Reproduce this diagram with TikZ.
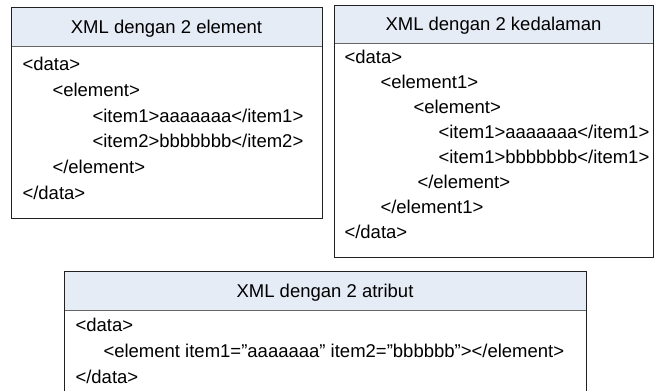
\documentclass[tikz,border=0pt]{standalone}
\usepackage{fontspec}
\setmainfont{Liberation Sans}
\definecolor{titlefill}{HTML}{E6ECF6}
\definecolor{framecol}{HTML}{202020}
\begin{document}
\begin{tikzpicture}[x=1pt,y=-1pt,line width=1pt,
  codeline/.style={anchor=base west,inner sep=0pt,font=\fontsize{18.5}{18.5}\selectfont},
  titletext/.style={anchor=base,inner sep=0pt,font=\fontsize{18.5}{18.5}\selectfont},
  band/.style={fill=titlefill,draw=black!60},
  frame/.style={draw=framecol}]
\useasboundingbox (0,0) rectangle (655,391);
% box 1
\filldraw[band] (11,7) rectangle (322,46);
\draw[frame] (11,7) rectangle (322,218);
\node[titletext] (t1) at (166.5,33) {XML dengan 2 element};
\node[codeline] (a1) at (22,70.5) {<data>};
\node[codeline] (a2) at (52,96.3) {<element>};
\node[codeline] (a3) at (92,122.1) {<item1>aaaaaaa</item1>};
\node[codeline] (a4) at (92,147.9) {<item2>bbbbbbb</item2>};
\node[codeline] (a5) at (52,173.7) {</element>};
\node[codeline] (a6) at (22,199.5) {</data>};
% box 2
\filldraw[band] (334,5) rectangle (653,43);
\draw[frame] (334,5) rectangle (653,257);
\node[titletext] (t2) at (493.5,30.5) {XML dengan 2 kedalaman};
\node[codeline] (b1) at (344,63.5) {<data>};
\node[codeline] (b2) at (380,88.5) {<element1>};
\node[codeline] (b3) at (413,113.5) {<element>};
\node[codeline] (b4) at (438,138.5) {<item1>aaaaaaa</item1>};
\node[codeline] (b5) at (438,163.5) {<item1>bbbbbbb</item1>};
\node[codeline] (b6) at (417,188.5) {</element>};
\node[codeline] (b7) at (380,213.5) {</element1>};
\node[codeline] (b8) at (344,238.5) {</data>};
% box 3
\filldraw[band] (64,271) rectangle (586,310);
\draw[frame] (64,391) -- (64,271) -- (586,271) -- (586,391);
\node[titletext] (t3) at (325,297) {XML dengan 2 atribut};
\node[codeline] (c1) at (75,331.5) {<data>};
\node[codeline] (c2) at (103,357.5) {<element item1=”aaaaaaa” item2=”bbbbbb”></element>};
\node[codeline] (c3) at (75,383.5) {</data>};
\end{tikzpicture}
\end{document}
